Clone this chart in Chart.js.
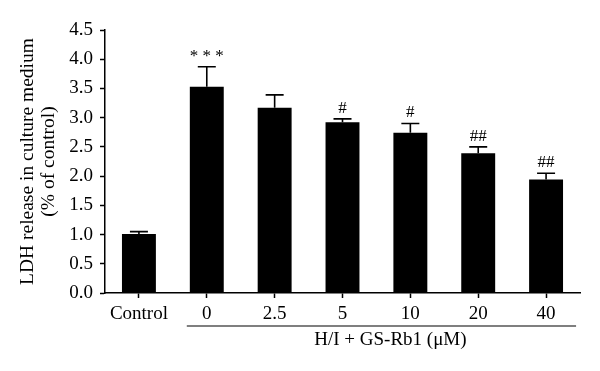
<!DOCTYPE html>
<html>
<head>
<meta charset="utf-8">
<script src="https://cdn.jsdelivr.net/npm/chart.js@4"></script>
<style>
  html, body { margin: 0; padding: 0; background: #fff; }
  #wrap { width: 600px; height: 371px; }
</style>
</head>
<body>
<div id="wrap"><canvas id="ldhChart" width="600" height="371"></canvas></div>
<script>
var categories = ['Control', '0', '2.5', '5', '10', '20', '40'];
var ldhMeans = [1.01, 3.53, 3.17, 2.92, 2.74, 2.39, 1.94];
var ldhErrors = [0.04, 0.34, 0.22, 0.06, 0.16, 0.11, 0.11];
var significance = ['', '* * *', '', '#', '#', '##', '##'];
var groupLabel = 'H/I + GS-Rb1 (\u03BCM)';

var serif = '"Liberation Serif", "Times New Roman", serif';

// error bars, significance marks and the group bracket under the x labels
var extrasPlugin = {
  id: 'extras',
  afterDatasetsDraw: function (chart) {
    var ctx = chart.ctx;
    var x = chart.scales.x;
    var y = chart.scales.y;
    ctx.save();
    ctx.strokeStyle = '#000';
    ctx.fillStyle = '#000';
    ctx.lineWidth = 1.6;
    for (var i = 0; i < ldhMeans.length; i++) {
      var cx = x.getPixelForValue(i);
      var top = y.getPixelForValue(ldhMeans[i] + ldhErrors[i]);
      var base = y.getPixelForValue(ldhMeans[i]);
      ctx.beginPath();
      ctx.moveTo(cx, base);
      ctx.lineTo(cx, top);
      ctx.moveTo(cx - 9, top);
      ctx.lineTo(cx + 9, top);
      ctx.stroke();
      if (significance[i]) {
        ctx.font = '17px ' + serif;
        ctx.textAlign = 'center';
        ctx.textBaseline = 'bottom';
        ctx.fillText(significance[i], cx, top - 2);
      }
    }
    // bracket for the treated groups
    var x0 = x.getPixelForValue(1) - 20;
    var x1 = x.getPixelForValue(6) + 30;
    var by = x.top + 33;
    ctx.lineWidth = 1.2;
    ctx.beginPath();
    ctx.moveTo(x0, by);
    ctx.lineTo(x1, by);
    ctx.stroke();
    ctx.font = '19px ' + serif;
    ctx.textAlign = 'center';
    ctx.textBaseline = 'middle';
    ctx.fillText(groupLabel, (x0 + x1) / 2 + 9, by + 14);
    ctx.restore();
  }
};

var ctx = document.getElementById('ldhChart').getContext('2d');
var chart = new Chart(ctx, {
  type: 'bar',
  data: {
    labels: categories,
    datasets: [{
      label: 'LDH release',
      data: ldhMeans,
      backgroundColor: '#000',
      borderWidth: 0,
      barPercentage: 0.5,
      categoryPercentage: 1
    }]
  },
  plugins: [extrasPlugin],
  options: {
    responsive: false,
    animation: false,
    devicePixelRatio: 1,
    layout: {
      padding: { top: 30, right: 20, left: 0, bottom: 0 }
    },
    plugins: {
      legend: { display: false },
      tooltip: { enabled: false }
    },
    scales: {
      x: {
        afterFit: function (scale) { scale.height = 78; },
        border: { color: '#000', width: 1.5 },
        grid: {
          offset: false,
          drawOnChartArea: false,
          drawTicks: true,
          tickLength: 5,
          tickColor: '#000',
          tickWidth: 1.5
        },
        ticks: {
          color: '#000',
          padding: 5,
          font: { family: serif, size: 19 }
        }
      },
      y: {
        min: 0,
        max: 4.5,
        afterFit: function (scale) { scale.width = 105; },
        border: { color: '#000', width: 1.5 },
        grid: {
          drawOnChartArea: false,
          drawTicks: true,
          tickLength: 5,
          tickColor: '#000',
          tickWidth: 1.5
        },
        ticks: {
          stepSize: 0.5,
          color: '#000',
          padding: 7,
          font: { family: serif, size: 19 },
          callback: function (v) { return v.toFixed(1); }
        },
        title: {
          display: true,
          text: ['LDH release in culture medium', '(% of control)'],
          color: '#000',
          font: { family: serif, size: 19.5, lineHeight: 1.05 },
          padding: { top: 18, bottom: 0 }
        }
      }
    }
  }
});
</script>
</body>
</html>
